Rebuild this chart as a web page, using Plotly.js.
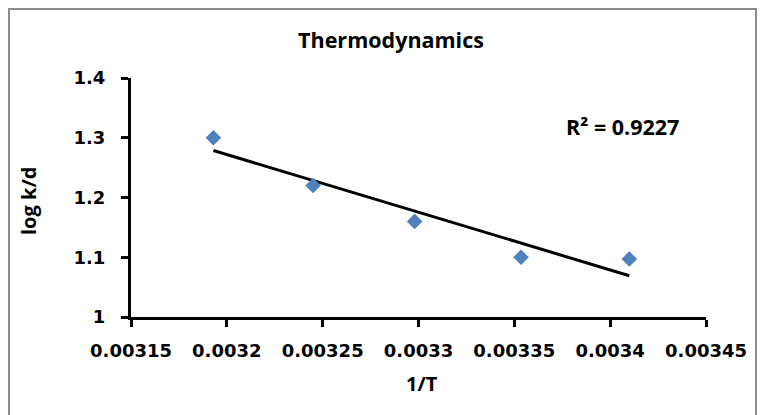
<!DOCTYPE html>
<html>
<head>
<meta charset="utf-8">
<script src="https://cdn.plot.ly/plotly-3.0.1.min.js"></script>
<style>
html,body{margin:0;padding:0;background:#fff;}
#wrap{position:relative;width:760px;height:415px;overflow:hidden;}
#chart{position:absolute;left:0;top:0;width:760px;height:415px;}
#frame{position:absolute;left:8px;top:8px;width:745px;height:420px;border:2px solid #8c8c8c;pointer-events:none;}
</style>
</head>
<body>
<div id="wrap"><div id="chart"></div><div id="frame"></div></div>
<script>
const invT = [0.003193, 0.003245, 0.003298, 0.0033535, 0.00341];
const logKd = [1.30, 1.22, 1.16, 1.10, 1.097];
const xTicks = [0.00315, 0.0032, 0.00325, 0.0033, 0.00335, 0.0034, 0.00345];
const xTickText = ["0.00315", "0.0032", "0.00325", "0.0033", "0.00335", "0.0034", "0.00345"];
const yTicks = [1, 1.1, 1.2, 1.3, 1.4];
const yTickText = ["1", "1.1", "1.2", "1.3", "1.4"];
const r2Label = "R² = 0.9227";

// least squares trendline from the data
const n = invT.length;
const mx = invT.reduce((a,b)=>a+b,0)/n;
const my = logKd.reduce((a,b)=>a+b,0)/n;
let sxy=0,sxx=0;
for(let i=0;i<n;i++){sxy+=(invT[i]-mx)*(logKd[i]-my);sxx+=(invT[i]-mx)**2;}
const slope = sxy/sxx, icpt = my - slope*mx;
const tx = [Math.min(...invT), Math.max(...invT)];
const ty = tx.map(v=>icpt+slope*v);

const tickFont = {family:"DejaVu Sans", size:18, color:"#000", weight:"bold"};
const textFont = {family:"Open Sans", size:20, color:"#000", weight:"bold"};
const bigFont = {family:"Open Sans", size:21.5, color:"#000", weight:"bold"};

const data = [
  {x:tx, y:ty, mode:"lines", line:{color:"#000", width:3}, hoverinfo:"skip"},
  {x:invT, y:logKd, mode:"markers", marker:{symbol:"diamond", size:12, color:"#4f81bd"}}
];
const layout = {
  width:760, height:415,
  margin:{l:131, r:54, t:78, b:98},
  paper_bgcolor:"#fff", plot_bgcolor:"#fff",
  showlegend:false,
  title:{text:"<b>Thermodynamics</b>", font:bigFont,
         xref:"container", x:391/760, xanchor:"center", yref:"container", y:1-40/415, yanchor:"middle"},
  xaxis:{range:[0.00315,0.00345], tickmode:"array", tickvals:xTicks, ticktext:xTickText,
         showgrid:false, zeroline:false, showline:true, linecolor:"#000", linewidth:3,
         ticks:"outside", ticklen:7, tickwidth:3, tickcolor:"#000", tickfont:tickFont,
         ticklabelstandoff:8},
  yaxis:{range:[1,1.4], tickmode:"array", tickvals:yTicks, ticktext:yTickText,
         showgrid:false, zeroline:false, showline:true, linecolor:"#000", linewidth:3,
         ticks:"outside", ticklen:7, tickwidth:3, tickcolor:"#000", tickfont:tickFont,
         ticklabelstandoff:12},
  annotations:[
    {text:"<b>log k/d</b>", xref:"paper", yref:"paper", x:(28-131)/575, y:(317-201)/239,
     textangle:-90, showarrow:false, font:textFont, xanchor:"center", yanchor:"middle"},
    {text:"<b>1/T</b>", xref:"paper", yref:"paper", x:(422-131)/575, y:(317-383)/239,
     showarrow:false, font:textFont, xanchor:"center", yanchor:"middle"},
    {text:"<b>"+r2Label+"</b>", xref:"paper", yref:"paper", x:(622-131)/575, y:(317-126)/239,
     showarrow:false, font:bigFont, xanchor:"center", yanchor:"middle"}
  ]
};
Plotly.newPlot("chart", data, layout, {displayModeBar:false, staticPlot:true});
</script>
</body>
</html>
